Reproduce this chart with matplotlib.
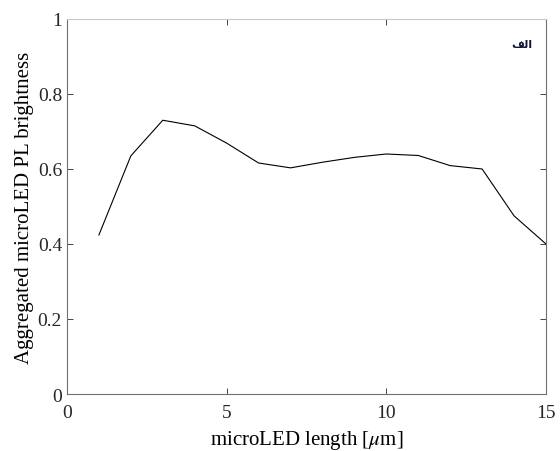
import matplotlib
matplotlib.use("Agg")
import matplotlib.pyplot as plt
from matplotlib.ticker import FuncFormatter

length_um = [1, 2, 3, 4, 5, 6, 7, 8, 9, 10, 11, 12, 13, 14, 15]
brightness = [0.424, 0.635, 0.730, 0.715, 0.669, 0.616, 0.603, 0.618, 0.631, 0.640, 0.636, 0.609, 0.600, 0.475, 0.400]
x_ticks = [0, 5, 10, 15]
y_ticks = [0, 0.2, 0.4, 0.6, 0.8, 1.0]
# "الف" written in Arabic presentation forms, visual (left-to-right) order
panel_label = '\uFED2\uFEDF\uFE8D'

plt.rcParams['font.family'] = ['Liberation Serif', 'DejaVu Serif']
plt.rcParams['mathtext.fontset'] = 'stix'

fig = plt.figure(figsize=(5.6, 4.52), dpi=100)
ax = fig.add_axes([0.1196, 0.1261, 0.8554, 0.8297])
ax.plot(length_um, brightness, color='black', linewidth=0.8)
ax.set_xlim(0, 15)
ax.set_ylim(0, 1)
ax.set_xticks(x_ticks)
ax.set_yticks(y_ticks)
ax.yaxis.set_major_formatter(FuncFormatter(lambda v, p: f"{v:g}"))
ax.tick_params(direction='in', top=True, right=True, labelsize=14, colors='#262626', length=4, width=0.6)
ax.tick_params(axis='x', pad=7)
for s in ax.spines.values():
    s.set_color('#707070')
    s.set_linewidth(0.8)
ax.spines['top'].set_color('#c8c8c8')
ax.set_xlabel(r'microLED length [$\mu$m]', fontsize=15, labelpad=5)
ax.set_ylabel('Aggregated microLED PL brightness', fontsize=15, labelpad=3)
ax.text(0.972, 0.932, panel_label, transform=ax.transAxes, ha='right', va='center',
        fontsize=8, fontweight='bold', color='#101838', family=['DejaVu Sans'])
fig.savefig('out.png', dpi=100)
